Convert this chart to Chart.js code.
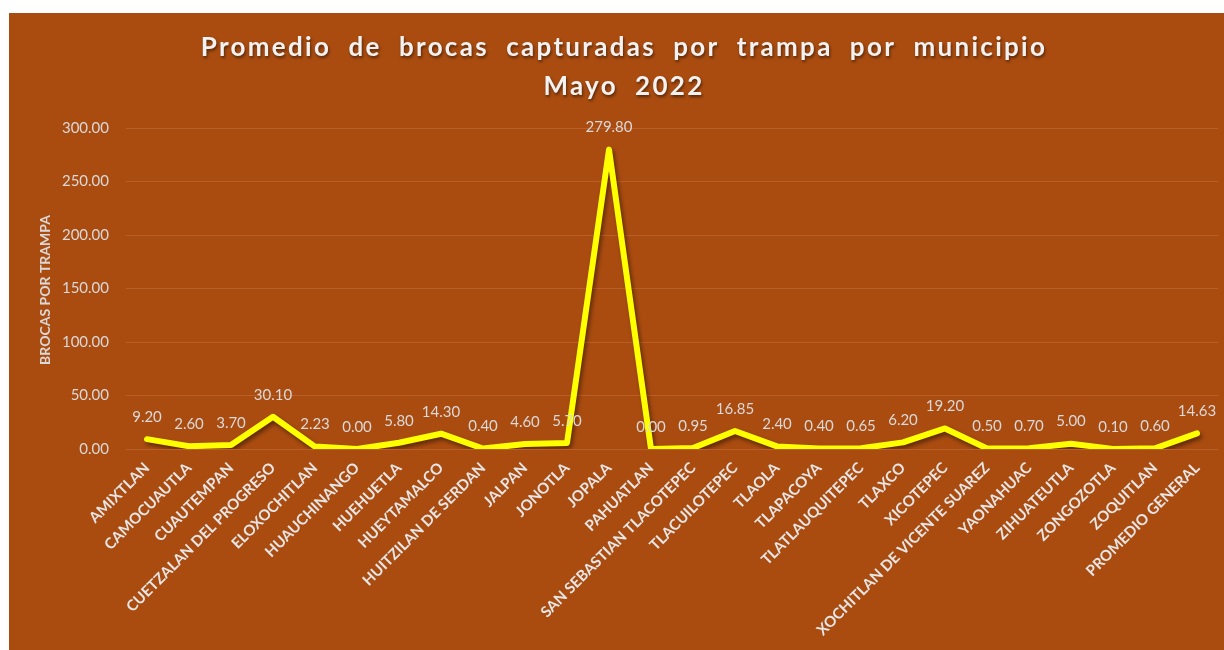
<!DOCTYPE html>
<html><head><meta charset="utf-8">
<script src="https://cdn.jsdelivr.net/npm/chart.js@4.4.0/dist/chart.umd.min.js"></script>
<style>
html,body{margin:0;padding:0;background:#fff;width:1224px;height:650px;overflow:hidden}
#wrap{position:absolute;left:9px;top:13px;width:1215px;height:637px;background:#AA4C10}
canvas{display:block}
</style></head><body>
<div id="wrap"><canvas id="c" width="1215" height="637"></canvas></div>
<script>
const categories = ["AMIXTLAN","CAMOCUAUTLA","CUAUTEMPAN","CUETZALAN DEL PROGRESO","ELOXOCHITLAN","HUAUCHINANGO","HUEHUETLA","HUEYTAMALCO","HUITZILAN DE SERDAN","JALPAN","JONOTLA","JOPALA","PAHUATLAN","SAN SEBASTIAN TLACOTEPEC","TLACUILOTEPEC","TLAOLA","TLAPACOYA","TLATLAUQUITEPEC","TLAXCO","XICOTEPEC","XOCHITLAN DE VICENTE SUAREZ","YAONAHUAC","ZIHUATEUTLA","ZONGOZOTLA","ZOQUITLAN","PROMEDIO GENERAL"];
const values = [9.20,2.60,3.70,30.10,2.23,0.00,5.80,14.30,0.40,4.60,5.70,279.80,0.00,0.95,16.85,2.40,0.40,0.65,6.20,19.20,0.50,0.70,5.00,0.10,0.60,14.63];
const yMin = 0;
const yMax = 300;
const yStep = 50;
const titleLines = ["Promedio  de  brocas  capturadas  por  trampa  por  municipio","Mayo  2022"];
const yAxisTitle = "BROCAS POR TRAMPA";

const LABEL_COLOR = '#D9D9D9';

const deco = {
  id: 'deco',
  beforeDatasetDraw(chart) {
    const ctx = chart.ctx;
    ctx.save();
    ctx.shadowColor = 'rgba(0,0,0,0.45)';
    ctx.shadowBlur = 4;
    ctx.shadowOffsetX = 2;
    ctx.shadowOffsetY = 3;
  },
  afterDatasetDraw(chart) {
    chart.ctx.restore();
  },
  afterDraw(chart) {
    const ctx = chart.ctx;
    const meta = chart.getDatasetMeta(0);
    ctx.save();
    ctx.font = '15px Lato';
    ctx.fillStyle = LABEL_COLOR;
    ctx.textAlign = 'center';
    ctx.textBaseline = 'middle';
    meta.data.forEach((pt, i) => {
      ctx.fillText(values[i].toFixed(2), pt.x, pt.y - 22);
    });
    ctx.restore();

    ctx.save();
    ctx.font = 'bold 26px Lato';
    ctx.fillStyle = '#F2F2F2';
    ctx.textAlign = 'center';
    ctx.textBaseline = 'middle';
    ctx.shadowColor = 'rgba(0,0,0,0.5)';
    ctx.shadowBlur = 3;
    ctx.shadowOffsetX = 1;
    ctx.shadowOffsetY = 2;
    ctx.letterSpacing = '2.3px';
    ctx.fillText(titleLines[0], 615, 35);
    ctx.fillText(titleLines[1], 615, 74);
    ctx.restore();

    ctx.save();
    ctx.font = 'bold 14px Lato';
    ctx.fillStyle = LABEL_COLOR;
    ctx.textAlign = 'center';
    ctx.textBaseline = 'middle';
    ctx.translate(36, 277);
    ctx.rotate(-Math.PI / 2);
    ctx.fillText(yAxisTitle, 0, 0);
    ctx.restore();
  }
};

new Chart(document.getElementById('c'), {
  type: 'line',
  data: {
    labels: categories,
    datasets: [{
      data: values,
      borderColor: '#FFFF00',
      borderWidth: 6,
      pointRadius: 0,
      tension: 0,
      fill: false,
      borderJoinStyle: 'round',
      borderCapStyle: 'round'
    }]
  },
  options: {
    responsive: false,
    animation: false,
    devicePixelRatio: 1,
    layout: { padding: { top: 115, right: 6, left: 0, bottom: 0 } },
    plugins: { legend: { display: false }, tooltip: { enabled: false }, title: { display: false } },
    scales: {
      x: {
        offset: true,
        grid: { display: false, drawTicks: false },
        border: { display: false },
        ticks: {
          autoSkip: false,
          minRotation: 45,
          maxRotation: 45,
          padding: 10,
          color: '#E6E6E6',
          font: { family: 'Lato', size: 15, weight: 'bold' }
        },
        afterFit(scale) { scale.height = 201; }
      },
      y: {
        min: yMin,
        max: yMax,
        grid: { color: '#B9602A', lineWidth: 1, drawTicks: false },
        border: { display: false },
        ticks: {
          stepSize: yStep,
          padding: 17,
          color: LABEL_COLOR,
          font: { family: 'Lato', size: 15 },
          callback: v => Number(v).toFixed(2)
        },
        afterFit(scale) { scale.width = 117; }
      }
    }
  },
  plugins: [deco]
});
</script>
</body></html>
